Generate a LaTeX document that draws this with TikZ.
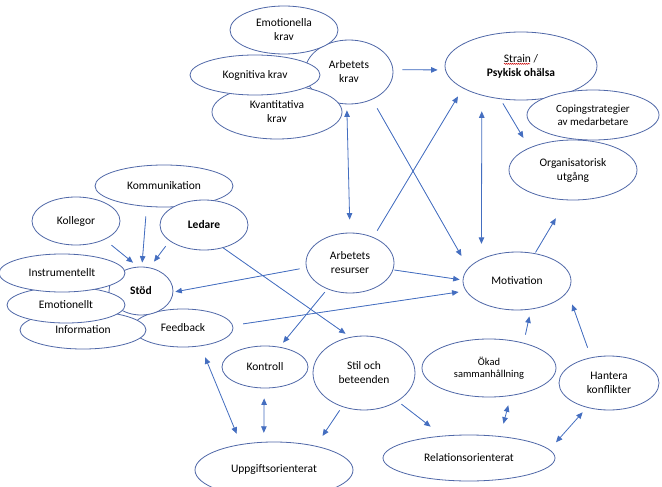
\documentclass[tikz,border=0pt]{standalone}
\usepackage{fontspec}
\setmainfont{Carlito}
\usetikzlibrary{shapes.geometric,arrows.meta,calc,decorations.pathmorphing}
\definecolor{ellcol}{RGB}{80,104,168}
\definecolor{arrcol}{RGB}{68,110,192}
\tikzset{
  ell/.style={ellipse, draw=ellcol, fill=white, line width=0.8pt, inner sep=0pt, align=center, text=black,
    font=\fontsize{11.5}{14}\selectfont},
  smalltext/.style={font=\fontsize{10.5}{12.5}\selectfont},
  midtext/.style={font=\fontsize{11}{13}\selectfont},
  arr/.style={draw=arrcol, line width=0.8pt, -{Triangle[length=6.5pt,width=5.5pt]}, fill=arrcol},
  darr/.style={draw=arrcol, line width=0.8pt, {Triangle[length=6.5pt,width=5.5pt]}-{Triangle[length=6.5pt,width=5.5pt]}},
}
\begin{document}
\begin{tikzpicture}[x=1pt,y=-1pt]
\useasboundingbox[fill=white] (0,0) rectangle (662,487);
% top cluster
\node[ell, minimum width=88pt, minimum height=64pt] (akrav) at (349,72) {Arbetets\\krav};
\node[ell, minimum width=130pt, minimum height=54pt] (kva) at (277,112) {Kvantitativa\\krav};
\node[ell, minimum width=108pt, minimum height=48pt] (emo) at (284,30) {Emotionella\\krav};
\node[ell, minimum width=130pt, minimum height=40pt] (kog) at (255,75) {Kognitiva krav};
% right top
\node[ell, minimum width=152pt, minimum height=68pt] (strain) at (521,66) {Strain /\\\textbf{Psykisk ohälsa}};
\node[ell, midtext, minimum width=132pt, minimum height=50pt] (cop) at (593,115) {Copingstrategier\\av medarbetare};
\node[ell, minimum width=128pt, minimum height=60pt] (org) at (573,170) {Organisatorisk\\utgång};
% left cluster
\node[ell, minimum width=138pt, minimum height=42pt] (kom) at (164,186) {Kommunikation};
\node[ell, minimum width=88pt, minimum height=48pt] (kol) at (76,221) {Kollegor};
\node[ell, minimum width=88pt, minimum height=50pt] (led) at (204,225) {\textbf{Ledare}};
\node[ell, minimum width=100pt, minimum height=38pt] (fb) at (183,328) {Feedback};
\node[ell, minimum width=64pt, minimum height=48pt] (stod) at (141,291) {\textbf{Stöd}};
\node[ell, minimum width=126pt, minimum height=38pt] (inf) at (83,330) {Information};
\node[ell, minimum width=118pt, minimum height=36pt] (emot) at (66,305) {Emotionellt};
\node[ell, minimum width=126pt, minimum height=38pt] (ins) at (62,273) {Instrumentellt};
% middle
\node[ell, minimum width=88pt, minimum height=60pt] (res) at (350,263) {Arbetets\\resurser};
\node[ell, minimum width=108pt, minimum height=58pt] (mot) at (517,281) {Motivation};
\node[ell, minimum width=86pt, minimum height=42pt] (kon) at (265,367) {Kontroll};
\node[ell, minimum width=102pt, minimum height=74pt] (stil) at (364,373) {Stil och\\beteenden};
\node[ell, smalltext, minimum width=134pt, minimum height=58pt] (okad) at (489,368) {Ökad\\sammanhållning};
\node[ell, minimum width=100pt, minimum height=54pt] (han) at (609,383) {Hantera\\konflikter};
\node[ell, minimum width=158pt, minimum height=56pt] (upp) at (274,470) {Uppgiftsorienterat};
\node[ell, minimum width=172pt, minimum height=46pt] (rel) at (469,458) {Relationsorienterat};
% spelling mark under "Strain"
\coordinate (sqa) at ($(strain.center)+(-17,-2.2)$);
\coordinate (sqb) at ($(strain.center)+(9,-2.2)$);
\draw[red!80!black, line width=0.5pt, decorate, decoration={snake, amplitude=0.5pt, segment length=2pt}] (sqa) -- (sqb);
% connectors
\draw[arr, shorten <=9pt, shorten >=7.5pt] (akrav.3) -- (strain.183);
\draw[darr, shorten <=6pt, shorten >=13pt] (akrav.266) -- (res.90);
\draw[arr, shorten <=10pt, shorten >=13.7pt] (akrav.310) -- (mot.165);
\draw[arr, shorten <=7.6pt, shorten >=9.5pt] (res.48) -- (strain.201);
\draw[darr, shorten <=15.8pt, shorten >=14.9pt] (strain.217) -- (mot.148);
\draw[arr, shorten <=5pt, shorten >=11.4pt] (strain.238) -- (org.153);
\draw[arr, shorten <=1pt, shorten >=21pt] (mot.57) -- (org.258);
\draw[arr, shorten <=1.2pt, shorten >=3pt] (res.351) -- (mot.179);
\draw[arr, shorten <=10.3pt, shorten >=7.3pt] (fb.3) -- (mot.191);
\draw[arr, shorten <=6.7pt, shorten >=2pt] (res.186) -- (stod.358);
\draw[arr, shorten <=4pt, shorten >=5.4pt] (res.229) -- (kon.54);
\draw[arr, shorten <=0pt, shorten >=5.6pt] (led.310) -- (stil.111);
\draw[arr, shorten <=8.7pt, shorten >=6.4pt] (kol.327) -- (stod.97);
\draw[arr, shorten <=9.8pt, shorten >=4pt] (kom.230) -- (stod.88);
\draw[arr, shorten <=6.5pt, shorten >=7.3pt] (led.205) -- (stod.70);
\draw[darr, shorten <=12pt, shorten >=11.2pt] (fb.314) -- (upp.142);
\draw[darr, shorten <=10pt, shorten >=9pt] (kon.268) -- (upp.110);
\draw[arr, shorten <=4.2pt, shorten >=12pt] (stil.237) -- (upp.30);
\draw[arr, shorten <=4.8pt, shorten >=14.9pt] (stil.320) -- (rel.140);
\draw[darr, shorten <=12.9pt, shorten >=9.8pt] (rel.35) -- (okad.308);
\draw[darr, shorten <=9.7pt, shorten >=6.3pt] (rel.6) -- (han.228);
\draw[arr, shorten <=8.3pt, shorten >=7.1pt] (okad.36) -- (mot.296);
\draw[arr, shorten <=10.3pt, shorten >=13.4pt] (han.125) -- (mot.348);
\end{tikzpicture}
\end{document}
